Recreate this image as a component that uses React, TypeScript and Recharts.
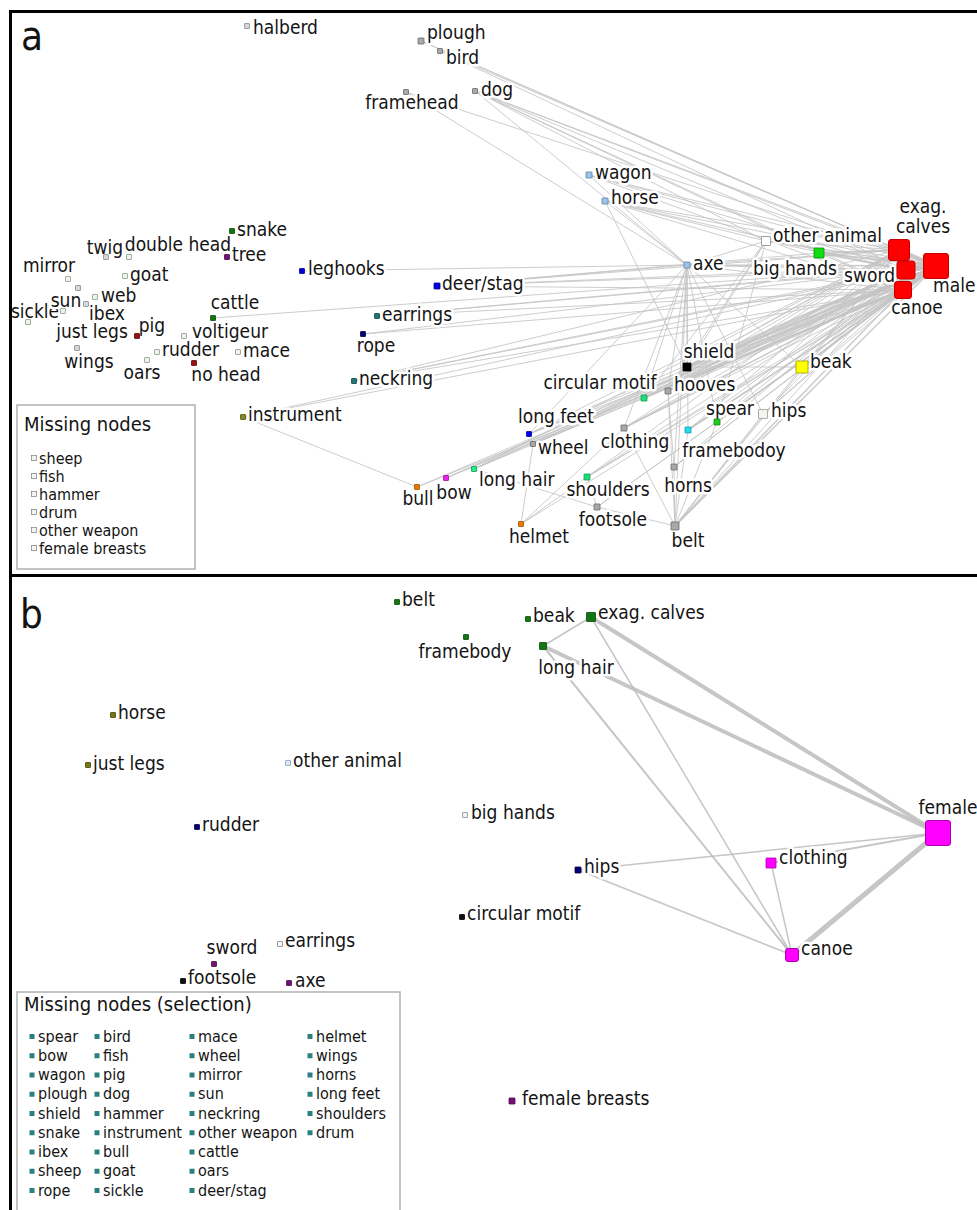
import React from "react";
import { ScatterChart, Scatter, XAxis, YAxis, ReferenceLine } from "recharts";

const W = 977;
const H = 1210;
const FONT = '"DejaVu Sans Condensed", "DejaVu Sans", sans-serif';

// ---- panel a: node layout coordinates and node weight ----
const nodesA: [string, number, number, number][] = [
  ["halberd", 247, 26, 5],
  ["plough", 421, 41, 6],
  ["bird", 440, 51, 5],
  ["framehead", 406, 92, 5],
  ["dog", 475, 91, 5],
  ["wagon", 589, 175, 6],
  ["horse", 605, 201, 6],
  ["other animal", 766, 241, 9],
  ["big hands", 819, 253, 10],
  ["exag. calves", 899, 250, 21],
  ["sword", 906, 270, 18],
  ["male", 936, 266, 25],
  ["canoe", 903, 290, 17],
  ["axe", 687, 265, 6],
  ["shield", 687, 367, 8],
  ["beak", 802, 367, 12],
  ["hooves", 668, 391, 6],
  ["circular motif", 644, 398, 6],
  ["spear", 717, 422, 6],
  ["hips", 763, 414, 9],
  ["long feet", 529, 434, 5],
  ["wheel", 533, 444, 5],
  ["clothing", 624, 428, 6],
  ["framebodoy", 688, 430, 6],
  ["horns", 674, 467, 6],
  ["long hair", 474, 469, 5],
  ["shoulders", 587, 477, 6],
  ["bow", 446, 478, 5],
  ["bull", 417, 487, 5],
  ["footsole", 597, 507, 6],
  ["helmet", 521, 524, 5],
  ["belt", 675, 526, 8],
  ["instrument", 243, 417, 5],
  ["neckring", 354, 381, 5],
  ["rope", 363, 334, 5],
  ["earrings", 377, 316, 5],
  ["deer/stag", 437, 286, 6],
  ["leghooks", 302, 271, 5],
  ["cattle", 213, 318, 5],
  ["voltigeur", 184, 336, 5],
  ["rudder", 157, 352, 5],
  ["mace", 238, 352, 5],
  ["no head", 194, 363, 5],
  ["oars", 147, 360, 5],
  ["wings", 77, 348, 5],
  ["pig", 137, 336, 5],
  ["just legs", 63, 311, 5],
  ["sickle", 28, 322, 5],
  ["ibex", 86, 304, 5],
  ["sun", 78, 288, 5],
  ["web", 95, 297, 5],
  ["mirror", 68, 279, 5],
  ["goat", 125, 276, 5],
  ["twig", 106, 257, 5],
  ["double head", 129, 257, 5],
  ["snake", 232, 231, 5],
  ["tree", 227, 257, 5],
];

// edges: source, target, weight
const edgesA: [string, string, number][] = [
  ["male", "exag. calves", 4], ["male", "sword", 5], ["male", "canoe", 4],
  ["exag. calves", "sword", 4], ["sword", "canoe", 3], ["exag. calves", "canoe", 2],
  ["big hands", "male", 2], ["big hands", "exag. calves", 2], ["big hands", "sword", 1.5], ["big hands", "canoe", 1],
  ["other animal", "male", 1.5], ["other animal", "exag. calves", 1], ["other animal", "sword", 1],
  ["other animal", "axe", 1], ["other animal", "hooves", 1], ["other animal", "shield", 1],
  ["other animal", "spear", 1], ["other animal", "circular motif", 1],
  ["dog", "male", 1], ["dog", "exag. calves", 1], ["dog", "sword", 1], ["dog", "canoe", 1],
  ["dog", "other animal", 1], ["dog", "axe", 1], ["dog", "big hands", 1],
  ["plough", "male", 1], ["plough", "exag. calves", 1], ["bird", "male", 1], ["bird", "sword", 1],
  ["framehead", "male", 1], ["framehead", "axe", 1],
  ["wagon", "male", 1], ["wagon", "exag. calves", 1], ["wagon", "sword", 1], ["wagon", "canoe", 1], ["wagon", "axe", 1],
  ["horse", "male", 1], ["horse", "exag. calves", 1], ["horse", "sword", 1], ["horse", "canoe", 1],
  ["horse", "axe", 1], ["horse", "other animal", 1], ["horse", "shield", 1],
  ["axe", "male", 1.5], ["axe", "exag. calves", 1], ["axe", "sword", 1.5], ["axe", "canoe", 1],
  ["axe", "shield", 1], ["axe", "hooves", 1], ["axe", "circular motif", 1], ["axe", "clothing", 1],
  ["axe", "spear", 1], ["axe", "beak", 1], ["axe", "horns", 1], ["axe", "belt", 1],
  ["axe", "framebodoy", 1], ["axe", "long feet", 1], ["axe", "hips", 1],
  ["leghooks", "axe", 1],
  ["deer/stag", "male", 1], ["deer/stag", "exag. calves", 1], ["deer/stag", "sword", 1],
  ["deer/stag", "canoe", 1], ["deer/stag", "axe", 1], ["deer/stag", "big hands", 1],
  ["cattle", "male", 1], ["earrings", "male", 1], ["earrings", "sword", 1], ["earrings", "canoe", 1],
  ["rope", "male", 1], ["rope", "canoe", 1],
  ["neckring", "male", 1], ["neckring", "exag. calves", 1], ["neckring", "sword", 1], ["neckring", "canoe", 1],
  ["instrument", "male", 1], ["instrument", "canoe", 1], ["instrument", "bull", 1],
  ["shield", "male", 2], ["shield", "exag. calves", 1.5], ["shield", "sword", 1.5], ["shield", "canoe", 1.5],
  ["shield", "beak", 1], ["shield", "hooves", 1],
  ["beak", "male", 1.5], ["beak", "exag. calves", 1], ["beak", "sword", 1], ["beak", "canoe", 1.5],
  ["hooves", "male", 1], ["hooves", "sword", 1], ["hooves", "canoe", 1], ["hooves", "exag. calves", 1],
  ["circular motif", "male", 1.5], ["circular motif", "exag. calves", 1], ["circular motif", "sword", 1], ["circular motif", "canoe", 1.5],
  ["spear", "male", 1.5], ["spear", "sword", 1], ["spear", "canoe", 1], ["spear", "exag. calves", 1],
  ["hips", "male", 1], ["hips", "canoe", 1], ["hips", "sword", 1],
  ["long feet", "male", 1], ["long feet", "exag. calves", 1], ["long feet", "sword", 1], ["long feet", "canoe", 1],
  ["wheel", "male", 1], ["wheel", "sword", 1], ["wheel", "canoe", 1],
  ["clothing", "male", 1.5], ["clothing", "exag. calves", 1], ["clothing", "sword", 1], ["clothing", "canoe", 1],
  ["framebodoy", "male", 1.5], ["framebodoy", "sword", 1], ["framebodoy", "canoe", 1], ["framebodoy", "exag. calves", 1],
  ["horns", "male", 1], ["horns", "canoe", 1], ["horns", "sword", 1], ["horns", "hooves", 1],
  ["long hair", "male", 1], ["long hair", "exag. calves", 1], ["long hair", "sword", 1], ["long hair", "canoe", 1], ["long hair", "footsole", 1],
  ["shoulders", "male", 1], ["shoulders", "exag. calves", 1], ["shoulders", "sword", 1], ["shoulders", "canoe", 1],
  ["bow", "male", 1], ["bow", "sword", 1], ["bow", "canoe", 1],
  ["bull", "male", 1], ["bull", "canoe", 1],
  ["footsole", "male", 1], ["footsole", "canoe", 1], ["footsole", "shoulders", 1], ["footsole", "belt", 1],
  ["helmet", "shoulders", 1], ["helmet", "clothing", 1], ["helmet", "wheel", 1], ["helmet", "male", 1],
  ["belt", "male", 1.5], ["belt", "exag. calves", 1], ["belt", "sword", 1], ["belt", "canoe", 1.5],
  ["belt", "horns", 1], ["belt", "clothing", 1], ["belt", "hooves", 1], ["belt", "spear", 1],
  ["belt", "framebodoy", 1], ["belt", "hips", 1], ["belt", "beak", 1],
];

const missingA = ["sheep", "fish", "hammer", "drum", "other weapon", "female breasts"];

// ---- panel b ----
const nodesB: [string, number, number, number][] = [
  ["belt", 397, 602, 5],
  ["beak", 528, 619, 5],
  ["exag. calves", 591, 617, 9],
  ["framebody", 466, 637, 5],
  ["long hair", 543, 646, 7],
  ["horse", 113, 715, 5],
  ["just legs", 88, 765, 5],
  ["other animal", 288, 763, 5],
  ["big hands", 465, 815, 5],
  ["rudder", 197, 827, 5],
  ["female", 938, 833, 25],
  ["clothing", 771, 863, 10],
  ["hips", 578, 870, 6],
  ["circular motif", 462, 917, 5],
  ["canoe", 792, 955, 13],
  ["sword", 214, 964, 5],
  ["earrings", 280, 944, 5],
  ["footsole", 183, 981, 5],
  ["axe", 289, 983, 5],
  ["female breasts", 512, 1101, 6],
];

const edgesB: [string, string, number][] = [
  ["exag. calves", "long hair", 1.5],
  ["exag. calves", "female", 4],
  ["exag. calves", "canoe", 1.5],
  ["long hair", "female", 4],
  ["long hair", "canoe", 2],
  ["hips", "female", 1.5],
  ["hips", "canoe", 1.5],
  ["clothing", "female", 2],
  ["clothing", "canoe", 1.5],
  ["canoe", "female", 5],
];

const missingB = [
  "spear", "bow", "wagon", "plough", "shield", "snake", "ibex", "sheep", "rope",
  "bird", "fish", "pig", "dog", "hammer", "instrument", "bull", "goat", "sickle",
  "mace", "wheel", "mirror", "sun", "neckring", "other weapon", "cattle", "oars", "deer/stag",
  "helmet", "wings", "horns", "long feet", "shoulders", "drum",
];

// ---- styles ----
type Sty = [string, string];
const GRAY: Sty = ["#a8a8a8", "#6a6a6a"];
const PALE: Sty = ["#eef4ea", "#8a9a88"];
const LGRAY: Sty = ["#d6d6d6", "#888888"];
const RED: Sty = ["#ff0000", "#c40000"];
const colorsA: Record<string, Sty> = {
  halberd: LGRAY, plough: GRAY, bird: GRAY, framehead: GRAY, dog: GRAY,
  wagon: ["#9fc3e8", "#5a7fa8"], horse: ["#9fc3e8", "#5a7fa8"], axe: ["#9fc3e8", "#5a7fa8"],
  "other animal": ["#ffffff", "#888888"], "big hands": ["#11dd11", "#0a8a0a"],
  "exag. calves": RED, sword: RED, male: RED, canoe: RED,
  shield: ["#000000", "#000000"], beak: ["#ffff00", "#999900"],
  hooves: GRAY, wheel: GRAY, clothing: GRAY, horns: GRAY, footsole: GRAY, belt: GRAY,
  "circular motif": ["#22dd77", "#119955"], spear: ["#22cc22", "#118811"],
  hips: ["#f4f4ec", "#999999"], "long feet": ["#0000ee", "#000099"],
  framebodoy: ["#22ddee", "#1199aa"], "long hair": ["#22ee88", "#119955"],
  shoulders: ["#22dd77", "#119955"], bow: ["#ee22ee", "#991199"],
  bull: ["#ee7700", "#995500"], helmet: ["#ee7700", "#995500"],
  instrument: ["#888822", "#555511"], neckring: ["#227777", "#114444"], earrings: ["#227777", "#114444"],
  rope: ["#000077", "#000044"], "deer/stag": ["#0000dd", "#000088"], leghooks: ["#0000dd", "#000088"],
  cattle: ["#117711", "#0a4a0a"], snake: ["#117711", "#0a4a0a"], tree: ["#771177", "#440a44"],
  pig: ["#991111", "#550a0a"], "no head": ["#991111", "#550a0a"],
  voltigeur: PALE, rudder: PALE, mace: PALE, oars: PALE, goat: PALE, web: PALE,
  mirror: PALE, "double head": PALE, "just legs": PALE, sickle: PALE,
  twig: LGRAY, sun: LGRAY, ibex: LGRAY, wings: LGRAY,
};
const DG: Sty = ["#117711", "#0a4a0a"];
const MAG: Sty = ["#ff00ff", "#aa00aa"];
const PUR: Sty = ["#771177", "#440a44"];
const colorsB: Record<string, Sty> = {
  belt: DG, beak: DG, "exag. calves": DG, framebody: DG, "long hair": DG,
  horse: ["#777711", "#444408"], "just legs": ["#777711", "#444408"],
  "other animal": ["#dde8f4", "#7f9fc4"], "big hands": ["#f4f4f4", "#888888"], earrings: ["#f4f4f4", "#888888"],
  rudder: ["#000077", "#000044"], hips: ["#000077", "#000044"],
  female: MAG, clothing: MAG, canoe: MAG,
  "circular motif": ["#111111", "#000000"], footsole: ["#111111", "#000000"],
  sword: PUR, axe: PUR, "female breasts": PUR,
};

type Lab = ["start" | "middle" | "end", number, number];
const labelsA: Record<string, Lab> = {
  halberd: ["start", 6, 1], plough: ["start", 6, -9], bird: ["start", 6, 6],
  framehead: ["middle", 6, 10], dog: ["start", 6, -2], wagon: ["start", 6, -3],
  horse: ["start", 6, -4], "other animal": ["start", 7, -6], "big hands": ["middle", -24, 15],
  "exag. calves": ["middle", 24, -44], sword: ["end", -11, 5], male: ["start", -3, 19],
  canoe: ["middle", 14, 17], axe: ["start", 6, -2], shield: ["middle", 22, -16],
  beak: ["start", 8, -6], hooves: ["start", 6, -7], "circular motif": ["middle", -44, -16],
  spear: ["middle", 13, -14], hips: ["start", 8, -4], "long feet": ["middle", 27, -18],
  wheel: ["start", 5, 3], clothing: ["middle", 11, 13], framebodoy: ["middle", 46, 20],
  horns: ["middle", 14, 18], "long hair": ["start", 5, 10], shoulders: ["middle", 21, 12],
  bow: ["middle", 8, 14], bull: ["middle", 1, 11], footsole: ["middle", 16, 12],
  helmet: ["middle", 18, 12], belt: ["middle", 13, 14], instrument: ["start", 5, -3],
  neckring: ["start", 5, -3], rope: ["middle", 13, 11], earrings: ["start", 5, -2],
  "deer/stag": ["start", 5, -3], leghooks: ["start", 6, -3], cattle: ["middle", 22, -16],
  voltigeur: ["start", 8, -5], rudder: ["start", 5, -3], mace: ["start", 5, -2],
  "no head": ["middle", 32, 11], oars: ["middle", -5, 12], wings: ["middle", 12, 13],
  pig: ["middle", 15, -11], "just legs": ["middle", 29, 20], sickle: ["middle", 7, -11],
  ibex: ["middle", 21, 9], sun: ["middle", -12, 12], web: ["start", 6, -2],
  mirror: ["middle", -19, -14], goat: ["start", 5, -2], twig: ["middle", -1, -10],
  "double head": ["middle", 49, -13], snake: ["start", 5, -2], tree: ["start", 5, -3],
};
const labelsB: Record<string, Lab> = {
  belt: ["start", 5, -3], beak: ["start", 5, -4], "exag. calves": ["start", 7, -5],
  framebody: ["middle", -1, 14], "long hair": ["middle", 33, 21], horse: ["start", 5, -3],
  "just legs": ["start", 5, -2], "other animal": ["start", 5, -3], "big hands": ["start", 6, -3],
  rudder: ["start", 5, -3], female: ["middle", 10, -26], clothing: ["start", 8, -6],
  hips: ["start", 6, -4], "circular motif": ["start", 5, -4], canoe: ["start", 9, -7],
  sword: ["middle", 18, -17], earrings: ["start", 5, -4], footsole: ["start", 5, -4],
  axe: ["start", 6, -3], "female breasts": ["start", 10, -3],
};
const linesA: Record<string, string[]> = { "exag. calves": ["exag.", "calves"] };

const toPts = (nodes: [string, number, number, number][]) =>
  nodes.map(([name, x, y, w]) => ({ name, x, y, w }));

const dataA = toPts(nodesA);
const dataB = toPts(nodesB);

const makeLabel = (labels: Record<string, Lab>, lines: Record<string, string[]>) => (p: any) => {
  const { cx, cy, payload } = p;
  const [anchor, dx, dy] = labels[payload.name] ?? ["start", 6, -3];
  const texts = lines[payload.name] ?? [payload.name];
  return (
    <g>
      {texts.map((t, i) => (
        <text
          key={i}
          x={cx + dx}
          y={cy + dy + i * 20}
          textAnchor={anchor}
          dominantBaseline="central"
          fontFamily={FONT}
          fontStretch="condensed"
          fontSize={19}
          fill="#141414"
          stroke="#ffffff"
          strokeWidth={5}
          strokeLinejoin="round"
          paintOrder="stroke"
        >
          {t}
        </text>
      ))}
    </g>
  );
};

const makeSquare = (colors: Record<string, Sty>) => (p: any) => {
  const { cx, cy, payload } = p;
  const s = payload.w;
  const [fill, stroke] = colors[payload.name] ?? GRAY;
  return (
    <rect
      x={cx - s / 2}
      y={cy - s / 2}
      width={s}
      height={s}
      rx={s > 12 ? 2.5 : 0.5}
      fill={fill}
      stroke={stroke}
      strokeWidth={s > 12 ? 1 : 0.8}
    />
  );
};

const renderEdges = (
  edges: [string, string, number][],
  data: { name: string; x: number; y: number }[],
  color: string,
  prefix: string
) => {
  const byName: Record<string, { x: number; y: number }> = {};
  data.forEach((d) => (byName[d.name] = d));
  return edges.map(([a, b, w], i) => {
    const p = byName[a];
    const q = byName[b];
    return (
      <ReferenceLine
        key={prefix + i}
        segment={[{ x: p.x, y: p.y }, { x: q.x, y: q.y }]}
        stroke={color}
        strokeWidth={w}
        strokeOpacity={0.85}
        ifOverflow="visible"
      />
    );
  });
};

function Overlay() {
  const txt = { fontFamily: FONT, fontStretch: "condensed" as const, fill: "#141414" };
  return (
    <svg width={W} height={H} style={{ position: "absolute", left: 0, top: 0, pointerEvents: "none" }}>
      {/* frames */}
      <line x1={9} y1={11.5} x2={W} y2={11.5} stroke="#000" strokeWidth={3} />
      <line x1={10.5} y1={10} x2={10.5} y2={H} stroke="#000" strokeWidth={3} />
      <line x1={9} y1={575.5} x2={W} y2={575.5} stroke="#000" strokeWidth={3} />
      <text x={21} y={50} fontSize={40} {...txt}>a</text>
      <text x={20} y={628} fontSize={40} {...txt}>b</text>

      {/* legend a */}
      <rect x={17} y={405} width={178} height={164} fill="#fff" stroke="#b0b0b0" strokeWidth={1.5} />
      <text x={24} y={424} fontSize={20} dominantBaseline="central" {...txt}>Missing nodes</text>
      {missingA.map((m, i) => (
        <g key={m}>
          <rect x={31.5} y={455.5 + i * 18} width={5} height={5} fill="#f4f4f4" stroke="#888" strokeWidth={0.8} />
          <text x={39} y={458 + i * 18} fontSize={16} dominantBaseline="central" {...txt}>{m}</text>
        </g>
      ))}

      {/* legend b */}
      <rect x={17} y={992} width={383} height={240} fill="#fff" stroke="#b0b0b0" strokeWidth={1.5} />
      <text x={24} y={1004} fontSize={20} dominantBaseline="central" {...txt}>Missing nodes (selection)</text>
      {missingB.map((m, i) => {
        const col = Math.floor(i / 9);
        const row = i % 9;
        const cx = [32, 97, 192, 310][col];
        const cy = 1036 + row * 19.25;
        return (
          <g key={m}>
            <rect x={cx - 2.5} y={cy - 2} width={5} height={5} fill="#2a8080" />
            <text x={cx + 6} y={cy} fontSize={16} dominantBaseline="central" {...txt}>{m}</text>
          </g>
        );
      })}
    </svg>
  );
}

export default function App() {
  return (
    <div style={{ position: "absolute", left: 0, top: 0, width: W, height: H, background: "#fff" }}>
      <ScatterChart width={W} height={H} margin={{ top: 0, right: 0, bottom: 0, left: 0 }}>
        <XAxis type="number" dataKey="x" domain={[0, W]} allowDataOverflow hide />
        <YAxis type="number" dataKey="y" domain={[0, H]} allowDataOverflow reversed hide />
        {renderEdges(edgesA, dataA, "#c4c4c4", "ea")}
        {renderEdges(edgesB, dataB, "#bcbcbc", "eb")}
        <Scatter data={dataA} shape={makeLabel(labelsA, linesA)} isAnimationActive={false} />
        <Scatter data={dataA} shape={makeSquare(colorsA)} isAnimationActive={false} />
        <Scatter data={dataB} shape={makeLabel(labelsB, {})} isAnimationActive={false} />
        <Scatter data={dataB} shape={makeSquare(colorsB)} isAnimationActive={false} />
      </ScatterChart>
      <Overlay />
    </div>
  );
}
